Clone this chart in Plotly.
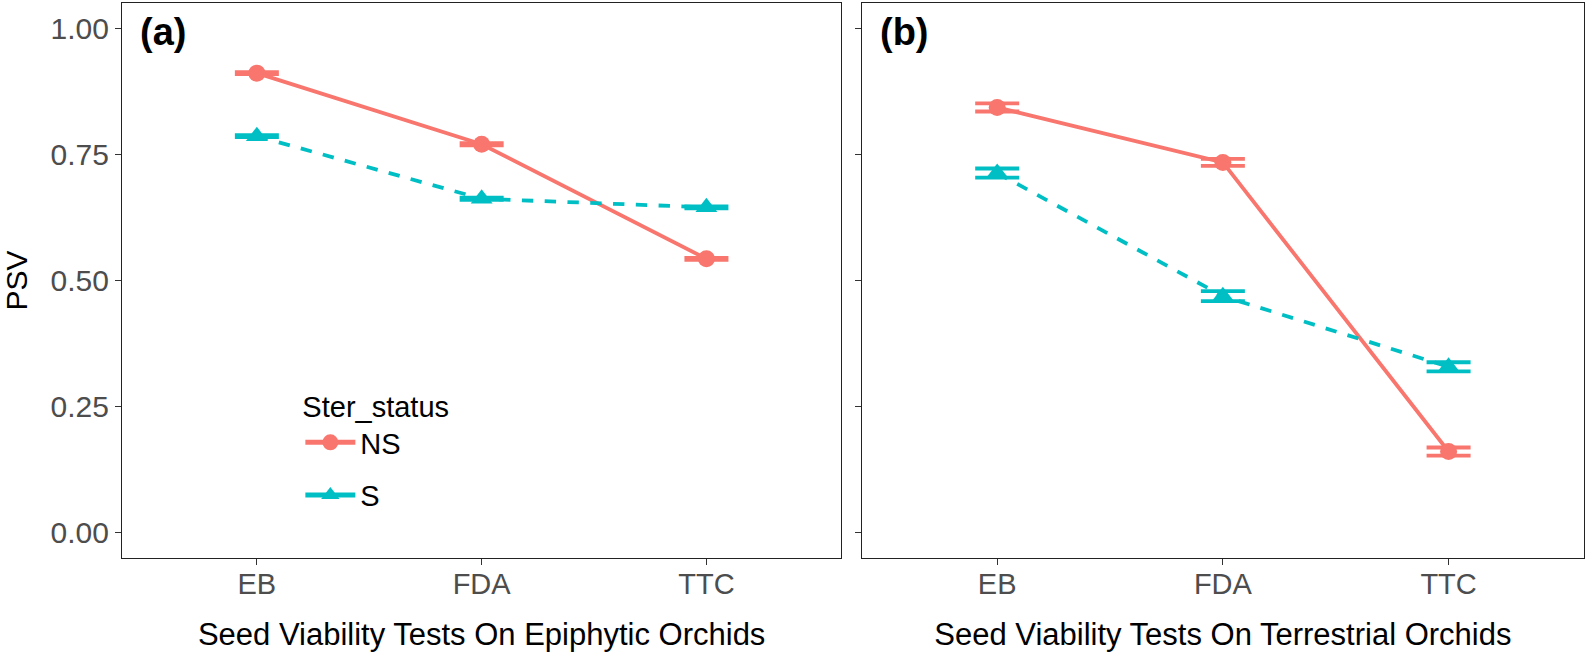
import plotly.graph_objects as go

tests = ["EB", "FDA", "TTC"]

# Panel (a) Epiphytic orchids
epi_ns = [0.911, 0.770, 0.543]
epi_ns_se = [0.002, 0.002, 0.002]
epi_s = [0.786, 0.662, 0.645]
epi_s_se = [0.002, 0.002, 0.002]

# Panel (b) Terrestrial orchids
ter_ns = [0.843, 0.734, 0.161]
ter_ns_se = [0.008, 0.007, 0.008]
ter_s = [0.713, 0.469, 0.329]
ter_s_se = [0.009, 0.010, 0.009]

C_NS = "#F8766D"
C_S = "#00BFC4"
FONT = "Liberation Sans, Arial, sans-serif"

fig = go.Figure()

def add(y, se, color, symbol, dash, xa, ya):
    fig.add_trace(go.Scatter(
        x=tests, y=y, xaxis=xa, yaxis=ya, mode="lines+markers",
        line=dict(color=color, width=3.8, dash=dash),
        marker=dict(color=color, symbol=symbol, size=17 if symbol == "circle" else 19),
        error_y=dict(type="data", array=se, visible=True, color=color,
                     thickness=3.8, width=22),
        showlegend=False, hoverinfo="skip"))

add(epi_ns, epi_ns_se, C_NS, "circle", "solid", "x", "y")
add(epi_s, epi_s_se, C_S, "triangle-up", "dash", "x", "y")
add(ter_ns, ter_ns_se, C_NS, "circle", "solid", "x2", "y2")
add(ter_s, ter_s_se, C_S, "triangle-up", "dash", "x2", "y2")

# legend entries
fig.add_trace(go.Scatter(x=[None], y=[None], mode="lines+markers", name="NS",
                         legendgroup="ns",
                         line=dict(color=C_NS, width=5),
                         marker=dict(color=C_NS, symbol="circle", size=17)))
fig.add_trace(go.Scatter(x=[None], y=[None], mode="lines+markers", name="S",
                         legendgroup="s",
                         line=dict(color=C_S, width=5),
                         marker=dict(color=C_S, symbol="triangle-up", size=19)))

xcommon = dict(type="category", categoryorder="array", categoryarray=tests,
               range=[-0.6, 2.6], showline=True, mirror=True, linecolor="#222",
               linewidth=1.3, ticks="outside", ticklen=6, tickcolor="#333",
               tickwidth=1.3, showgrid=False, zeroline=False, automargin=False,
               ticklabelstandoff=-6,
               tickfont=dict(family=FONT, size=29, color="#4D4D4D"))
ycommon = dict(range=[-0.05, 1.05], showline=True, mirror=True, linecolor="#222",
               linewidth=1.3, ticks="outside", ticklen=6, tickcolor="#333",
               tickwidth=1.3, showgrid=False, zeroline=False, automargin=False,
               tickvals=[0, 0.25, 0.5, 0.75, 1.0],
               ticktext=["0.00", "0.25", "0.50", "0.75", "1.00"],
               tickfont=dict(family=FONT, size=30, color="#4D4D4D"))

fig.update_layout(
    width=1594, height=653,
    margin=dict(l=122, r=10, t=3, b=95),
    plot_bgcolor="white", paper_bgcolor="white",
    xaxis=dict(xcommon, domain=[0, 0.492], anchor="y",
               title=dict(text="Seed Viability Tests On Epiphytic Orchids",
                          font=dict(family=FONT, size=31, color="black"), standoff=24)),
    yaxis=dict(ycommon, domain=[0, 1], anchor="x",
               title=dict(text="PSV", font=dict(family=FONT, size=30, color="black"), standoff=14)),
    xaxis2=dict(xcommon, domain=[0.506, 1.0], anchor="y2",
                title=dict(text="Seed Viability Tests On Terrestrial Orchids",
                           font=dict(family=FONT, size=31, color="black"), standoff=24)),
    yaxis2=dict(ycommon, domain=[0, 1], anchor="x2", showticklabels=False),
    legend=dict(x=0.122, y=0.322, xanchor="left", yanchor="top",
                bgcolor="rgba(0,0,0,0)",
                title=dict(text="Ster_status", font=dict(family=FONT, size=29, color="black")),
                font=dict(family=FONT, size=29, color="black"),
                itemwidth=50, tracegroupgap=12),
    annotations=[
        dict(text="<b>(a)</b>", x=0.011, y=0.99, xref="paper", yref="paper",
             xanchor="left", yanchor="top", showarrow=False,
             font=dict(family=FONT, size=38, color="black")),
        dict(text="<b>(b)</b>", x=0.517, y=0.99, xref="paper", yref="paper",
             xanchor="left", yanchor="top", showarrow=False,
             font=dict(family=FONT, size=38, color="black")),
    ],
)

fig.write_html("out.html", config={"displayModeBar": False},
               post_script="document.body.style.margin='0';")
